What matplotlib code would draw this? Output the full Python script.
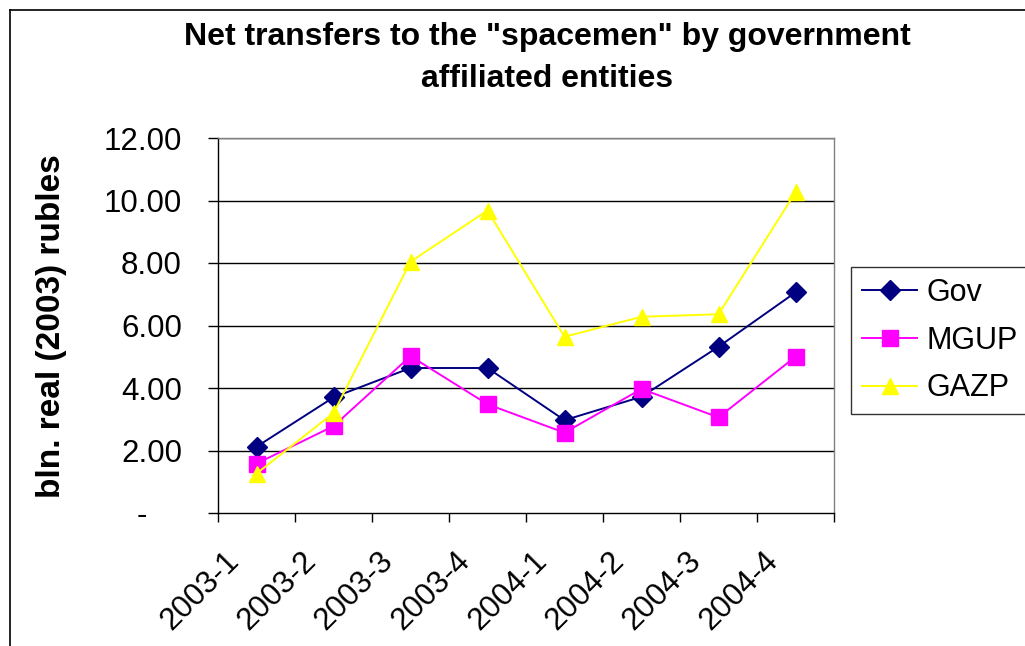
import matplotlib
matplotlib.use("Agg")
import matplotlib.pyplot as plt
from matplotlib.lines import Line2D
from matplotlib.transforms import ScaledTranslation

plt.rcParams['font.family'] = ['Liberation Sans', 'DejaVu Sans']

categories = ["2003-1", "2003-2", "2003-3", "2003-4", "2004-1", "2004-2", "2004-3", "2004-4"]
gov = [2.12, 3.70, 4.64, 4.64, 2.97, 3.72, 5.32, 7.06]
mgup = [1.58, 2.78, 5.02, 3.48, 2.57, 3.97, 3.06, 5.00]
gazp = [1.26, 3.20, 8.04, 9.68, 5.64, 6.28, 6.36, 10.26]
yticks = [0, 2, 4, 6, 8, 10, 12]
ytick_labels = ["-    ", "2.00", "4.00", "6.00", "8.00", "10.00", "12.00"]

W, H = 1025, 646
fig = plt.figure(figsize=(W / 100, H / 100), dpi=100)

# outer chart border
fig.add_artist(Line2D([10 / W, 10 / W], [0, 1 - 10 / H], color='black', lw=1.2, transform=fig.transFigure))
fig.add_artist(Line2D([10 / W, 1], [1 - 10 / H, 1 - 10 / H], color='black', lw=1.2, transform=fig.transFigure))

ax = fig.add_axes([218 / W, 1 - 513 / H, (834 - 218) / W, (513 - 138) / H])
x = list(range(len(categories)))

ax.plot(x, gov, color='#000080', marker='D', markersize=10, lw=1.4, label='Gov', zorder=3)
ax.plot(x, mgup, color='#FF00FF', marker='s', markersize=11, lw=1.4, label='MGUP', zorder=3)
ax.plot(x, gazp, color='#FFFF00', marker='^', markersize=12, lw=1.4, label='GAZP', zorder=3)

ax.set_xlim(-0.5, len(categories) - 0.5)
ax.set_ylim(0, 12)
ax.set_yticks(yticks)
ax.set_yticklabels(ytick_labels, fontsize=22.5)
for yv in yticks[1:]:
    ax.axhline(yv, color='black', lw=1.0, zorder=1)

ax.set_xticks([i - 0.5 for i in range(len(categories) + 1)])
ax.set_xticklabels([])
ax.set_xticks(x, minor=True)
ax.set_xticklabels(categories, minor=True, rotation=45, ha='right', va='center',
                   rotation_mode='anchor', fontsize=22.5)
ax.tick_params(axis='x', which='minor', length=0, pad=26)
ax.tick_params(axis='x', which='major', length=6.5, direction='out', width=1)
ax.tick_params(axis='y', length=7, direction='out', width=1, pad=19)
offset = ScaledTranslation(-22 / 100, -7 / 100, fig.dpi_scale_trans)
for lbl in ax.get_xticklabels(minor=True):
    lbl.set_transform(lbl.get_transform() + offset)

for s in ['top', 'right']:
    ax.spines[s].set_color('#808080')
    ax.spines[s].set_linewidth(1.0)
for s in ['left', 'bottom']:
    ax.spines[s].set_color('black')
    ax.spines[s].set_linewidth(1.0)

ax.set_ylabel('bln. real (2003) rubles', fontsize=24, fontweight='bold')
ax.yaxis.set_label_coords(67 / W, 1 - 326 / H, transform=fig.transFigure)

fig.text(547 / W, 1 - 58 / H, 'Net transfers to the "spacemen" by government\naffiliated entities',
         ha='center', va='center', fontsize=23, fontweight='bold', linespacing=1.5)

leg = fig.legend(loc='upper left', bbox_to_anchor=(851 / W, 1 - 267 / H), fontsize=22,
                 frameon=True, fancybox=False, edgecolor='black', handlelength=1.8,
                 borderpad=0.36, labelspacing=0.58, handletextpad=0.3, borderaxespad=0)
leg.get_frame().set_linewidth(1.0)

fig.savefig('out.png', dpi=100)
